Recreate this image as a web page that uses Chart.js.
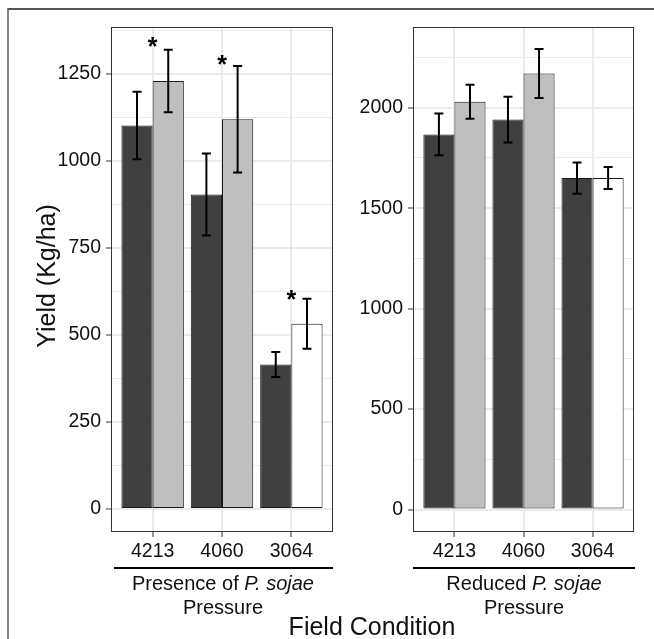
<!DOCTYPE html>
<html>
<head>
<meta charset="utf-8">
<script src="https://cdn.jsdelivr.net/npm/chart.js@4.4.1/dist/chart.umd.min.js"></script>
<style>
  html, body { margin: 0; padding: 0; background: #fff; }
  body { width: 654px; height: 639px; position: relative; overflow: hidden; font-family: 'Liberation Sans', Arial, sans-serif; color: #111; }
  canvas { position: absolute; top: 0; }
  .frame { position: absolute; left: 7px; top: 8px; width: 700px; height: 700px; border-left: 2px solid #858585; border-top: 2px solid #555; box-sizing: border-box; }
  .txt { position: absolute; text-align: center; white-space: nowrap; }
  .sub { font-size: 20px; line-height: 24px; width: 300px; }
  .big { font-size: 25px; line-height: 30px; width: 300px; height: 30px; }
  .bracket { position: absolute; height: 2px; background: #000; top: 567px; }
</style>
</head>
<body>
<div class="frame"></div>
<canvas id="c1" width="340" height="639" style="left:0"></canvas>
<canvas id="c2" width="314" height="639" style="left:340px"></canvas>
<div class="bracket" style="left:114px;width:219px"></div>
<div class="bracket" style="left:413px;width:222px"></div>
<div class="txt sub" style="left:73px;top:571px">Presence of <i>P. sojae</i><br>Pressure</div>
<div class="txt sub" style="left:374px;top:571px">Reduced <i>P. sojae</i><br>Pressure</div>
<div class="txt big" style="left:222px;top:611px">Field Condition</div>
<div class="txt big" style="left:-104px;top:261px;transform:rotate(-90deg)">Yield (Kg/ha)</div>
<script>
// ---- data ----
const categories = ['4213', '4060', '3064'];

const leftDark = [1101, 903, 415];
const leftDarkErr = [97, 118, 36];
const leftLight = [1229, 1119, 532];
const leftLightErr = [90, 153, 72];
const leftStars = [1345, 1292, 618];

const rightDark = [1867, 1941, 1650];
const rightDarkErr = [104, 114, 78];
const rightLight = [2030, 2171, 1650];
const rightLightErr = [85, 122, 55];

const leftMajorTicks = [0, 250, 500, 750, 1000, 1250];
const leftMinorTicks = [125, 375, 625, 875, 1125, 1375];
const rightMajorTicks = [0, 500, 1000, 1500, 2000];
const rightMinorTicks = [250, 750, 1250, 1750, 2250];

const leftRange = [-66, 1384];
const rightRange = [-112, 2402];

// ---- chart helpers ----
Chart.defaults.font.family = "'Liberation Sans', Arial, sans-serif";
Chart.defaults.color = '#111';

function pts(vals) { return vals.map((v, i) => ({ x: i + 1, y: v })); }

const errorBars = {
  id: 'errorBars',
  afterDatasetsDraw(chart, args, opts) {
    const ctx = chart.ctx;
    const ys = chart.scales.y;
    ctx.save();
    ctx.strokeStyle = '#000';
    ctx.lineWidth = 2;
    chart.data.datasets.forEach((ds, di) => {
      const meta = chart.getDatasetMeta(di);
      meta.data.forEach((bar, j) => {
        const v = ds.data[j].y, e = ds.errors[j];
        const yt = ys.getPixelForValue(v + e), yb = ys.getPixelForValue(v - e);
        const x = bar.x, hw = 4.5;
        ctx.beginPath();
        ctx.moveTo(x, yt); ctx.lineTo(x, yb);
        ctx.moveTo(x - hw, yt); ctx.lineTo(x + hw, yt);
        ctx.moveTo(x - hw, yb); ctx.lineTo(x + hw, yb);
        ctx.stroke();
      });
    });
    const stars = opts.stars || [];
    ctx.fillStyle = '#000';
    ctx.font = "bold 25px 'Liberation Sans', Arial, sans-serif";
    ctx.textAlign = 'center';
    ctx.textBaseline = 'alphabetic';
    stars.forEach((s, j) => {
      const x = chart.scales.x.getPixelForValue(j + 1);
      const y = ys.getPixelForValue(s);
      ctx.fillText('*', x, y + 0.57 * 25);
    });
    ctx.restore();
  }
};

const panelFrame = {
  id: 'panelFrame',
  afterDraw(chart) {
    const a = chart.chartArea, ctx = chart.ctx;
    ctx.save();
    ctx.strokeStyle = '#333';
    ctx.lineWidth = 1;
    ctx.strokeRect(Math.round(a.left) + 0.5, Math.round(a.top) + 0.5, Math.round(a.right - a.left) - 1, Math.round(a.bottom - a.top) - 1);
    ctx.restore();
  }
};

function makeChart(id, dark, darkErr, light, lightErr, range, major, minor, yWidth, padRight, stars) {
  const allTicks = major.concat(minor).sort((a, b) => a - b);
  return new Chart(document.getElementById(id), {
    type: 'bar',
    data: {
      datasets: [
        { data: pts(dark), errors: darkErr, backgroundColor: '#404040', borderColor: '#1a1a1a', borderWidth: 1, borderSkipped: false },
        { data: pts(light), errors: lightErr, backgroundColor: ['#BFBFBF', '#BFBFBF', '#FFFFFF'], borderColor: '#1a1a1a', borderWidth: 1, borderSkipped: false }
      ]
    },
    options: {
      responsive: false,
      animation: false,
      devicePixelRatio: 1,
      layout: { padding: { top: 27, right: padRight, bottom: 77, left: 0 } },
      categoryPercentage: 0.9,
      barPercentage: 1.0,
      plugins: { legend: { display: false }, tooltip: { enabled: false }, errorBars: { stars: stars } },
      scales: {
        x: {
          type: 'linear', min: 0.4, max: 3.6, offset: false,
          afterBuildTicks: s => { s.ticks = [1, 2, 3].map(v => ({ value: v })); },
          afterFit: s => { s.height = 30; },
          ticks: { callback: v => categories[v - 1] || '', font: { size: 19.5 }, color: '#111', padding: 3, maxRotation: 0, autoSkip: false },
          grid: { offset: false, color: '#EBEBEB', lineWidth: 2, tickLength: 5, tickColor: '#333', tickWidth: 1 },
          border: { display: false }
        },
        y: {
          min: range[0], max: range[1],
          afterBuildTicks: s => { s.ticks = allTicks.map(v => ({ value: v })); },
          afterFit: s => { s.width = yWidth; },
          ticks: { callback: v => major.includes(v) ? String(v) : '', font: { size: 19.5 }, color: '#111', padding: 5, autoSkip: false },
          grid: {
            color: '#EBEBEB',
            lineWidth: c => (c.tick && major.includes(c.tick.value)) ? 2 : 1,
            tickLength: 5,
            tickColor: c => (c.tick && major.includes(c.tick.value)) ? '#333' : 'rgba(0,0,0,0)',
            tickWidth: 1
          },
          border: { display: false }
        }
      }
    },
    plugins: [errorBars, panelFrame]
  });
}

makeChart('c1', leftDark, leftDarkErr, leftLight, leftLightErr, leftRange, leftMajorTicks, leftMinorTicks, 111, 7, leftStars);
makeChart('c2', rightDark, rightDarkErr, rightLight, rightLightErr, rightRange, rightMajorTicks, rightMinorTicks, 73, 20, []);
</script>
</body>
</html>
